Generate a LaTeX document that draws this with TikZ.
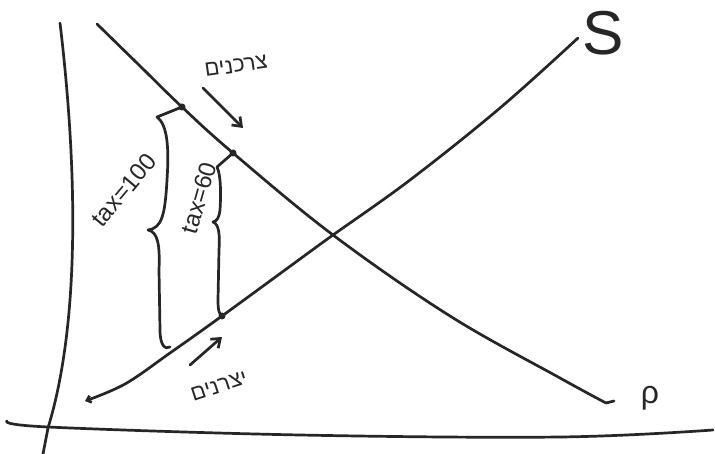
\documentclass[tikz,border=0pt]{standalone}
\usepackage{fontspec}
\setmainfont{Liberation Sans}
\newfontfamily\hebfont[Script=Hebrew]{Liberation Sans}
\TeXXeTstate=1
\usetikzlibrary{arrows.meta}
\begin{document}
\begin{tikzpicture}[x=1pt,y=-1pt,
  ink/.style={line width=2.7pt,draw=black!85,line cap=round,line join=round},
  dotm/.style={circle,fill=black!85,inner sep=0pt,minimum size=7pt},
  lbl/.style={font=\fontsize{24}{28}\selectfont,text=black!85,inner sep=0pt},
  heb/.style={font=\fontsize{22}{26}\selectfont\hebfont,text=black!85,inner sep=0pt}]
\useasboundingbox (0,0) rectangle (715,454);
\fill[white] (0,0) rectangle (715,454);
% axes
\draw[ink] (60,23) .. controls (74,140) and (84,310) .. (48,428) -- (43,454);
\draw[ink] plot[smooth,tension=0.6] coordinates {(7,421) (48,427) (300,435) (560,437) (713,430)};
% points
\coordinate (D1) at (182,107);
\coordinate (D2) at (233,153);
\coordinate (S1) at (222,316);
% demand
\draw[ink] plot[smooth,tension=0.6] coordinates {(97,24) (140,66) (D1) (D2) (333,235) (450,316) (560,378) (606,403)} -- (614,401);
% supply
\draw[ink,-{Straight Barb[length=4pt,width=7pt]}] plot[smooth,tension=0.6] coordinates {(578,38) (500,108) (410,180) (333,235) (300,259) (S1) (170,353) (125,384) (85,401)};
\node[dotm] (d1) at (D1) {};
\node[dotm] (d2) at (D2) {};
\node[dotm] (s1) at (S1) {};
% big brace
\draw[ink] (d1.center) -- (157,117) .. controls (168,125) and (169,150) .. (167,180)
  .. controls (165,215) and (162,228) .. (148,230)
  .. controls (158,232) and (160,245) .. (159,270) -- (160,330)
  .. controls (160,345) and (165,350) .. (170,347);
% small brace
\draw[ink] (d2.center) -- (217,167) .. controls (221,175) and (221,195) .. (220,210)
  .. controls (219,218) and (217,221) .. (213,222)
  .. controls (219,224) and (220,235) .. (219,250) -- (218,300)
  .. controls (218,310) and (219,314) .. (s1.center);
% arrows
\coordinate (a1) at (203,88);
\coordinate (a2) at (243,128);
\coordinate (b1) at (190,365);
\coordinate (b2) at (222,337);
\draw[ink,-{Straight Barb[length=8pt,width=12pt]}] (a1) -- (a2);
\draw[ink,-{Straight Barb[length=8pt,width=12pt]}] (b1) -- (b2);
% labels
\node[lbl,rotate=50] (t100) at (124,190) {tax=100};
\node[lbl,rotate=74] (t60) at (199,198) {tax=60};
\node[heb,rotate=8] (cons) at (236,66) {\beginR צרכנים\endR};
\node[heb,rotate=18] (prod) at (219,386) {\beginR יצרנים\endR};
\node[font=\fontsize{62}{66}\selectfont,text=black!85,inner sep=0pt] (Slbl) at (603,33) {S};
\node[font=\fontsize{32}{36}\selectfont,text=black!85,inner sep=0pt] (Dlbl) at (650,398) {ρ};
\end{tikzpicture}
\end{document}
